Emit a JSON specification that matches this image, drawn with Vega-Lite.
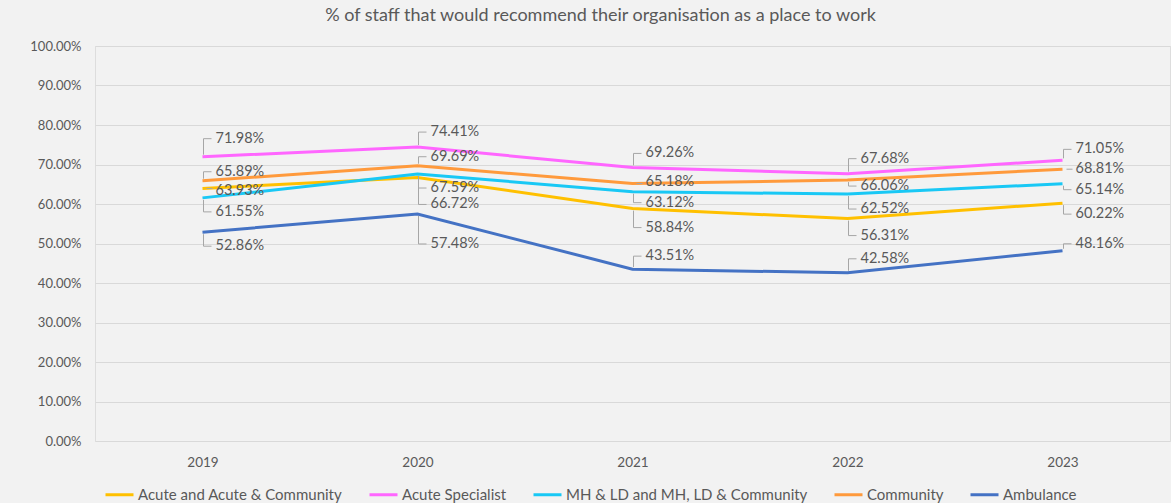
{
  "$schema": "https://vega.github.io/schema/vega-lite/v6.json",
  "width": 1075,
  "height": 395,
  "autosize": {"type": "none"},
  "padding": {"left": 95, "top": 46, "right": 1, "bottom": 62},
  "background": "#f2f2f2",
  "params": [
    {"name": "off", "value": {
      "Acute and Acute & Community": [3, 27, 19, 17, 11],
      "Acute Specialist": [-18, -15, -14, -15, -11],
      "MH & LD and MH, LD & Community": [14, 14, 11, 15, 6],
      "Community": [-9, -9, -2, 6, 0],
      "Ambulance": [14, 30, -13, -14, -7]
    }}
  ],
  "title": {
    "text": "% of staff that would recommend their organisation as a place to work",
    "font": "Lato",
    "fontSize": 18,
    "fontWeight": "normal",
    "color": "#595959",
    "anchor": "middle",
    "dx": -32,
    "offset": 15
  },
  "data": {"values": [
    {"series": "Acute and Acute & Community", "year": "2019", "value": 0.6393},
    {"series": "Acute and Acute & Community", "year": "2020", "value": 0.6672},
    {"series": "Acute and Acute & Community", "year": "2021", "value": 0.5884},
    {"series": "Acute and Acute & Community", "year": "2022", "value": 0.5631},
    {"series": "Acute and Acute & Community", "year": "2023", "value": 0.6022},
    {"series": "Acute Specialist", "year": "2019", "value": 0.7198},
    {"series": "Acute Specialist", "year": "2020", "value": 0.7441},
    {"series": "Acute Specialist", "year": "2021", "value": 0.6926},
    {"series": "Acute Specialist", "year": "2022", "value": 0.6768},
    {"series": "Acute Specialist", "year": "2023", "value": 0.7105},
    {"series": "MH & LD and MH, LD & Community", "year": "2019", "value": 0.6155},
    {"series": "MH & LD and MH, LD & Community", "year": "2020", "value": 0.6759},
    {"series": "MH & LD and MH, LD & Community", "year": "2021", "value": 0.6312},
    {"series": "MH & LD and MH, LD & Community", "year": "2022", "value": 0.6252},
    {"series": "MH & LD and MH, LD & Community", "year": "2023", "value": 0.6514},
    {"series": "Community", "year": "2019", "value": 0.6589},
    {"series": "Community", "year": "2020", "value": 0.6969},
    {"series": "Community", "year": "2021", "value": 0.6518},
    {"series": "Community", "year": "2022", "value": 0.6606},
    {"series": "Community", "year": "2023", "value": 0.6881},
    {"series": "Ambulance", "year": "2019", "value": 0.5286},
    {"series": "Ambulance", "year": "2020", "value": 0.5748},
    {"series": "Ambulance", "year": "2021", "value": 0.4351},
    {"series": "Ambulance", "year": "2022", "value": 0.4258},
    {"series": "Ambulance", "year": "2023", "value": 0.4816}
  ]},
  "encoding": {
    "x": {
      "field": "year", "type": "ordinal",
      "scale": {"type": "point", "padding": 0.5},
      "axis": {
        "title": null, "labelAngle": 0, "domain": false, "ticks": false, "grid": false,
        "labelFont": "Lato", "labelFontSize": 13.5, "labelColor": "#595959", "labelPadding": 14
      }
    },
    "y": {
      "field": "value", "type": "quantitative",
      "scale": {"domain": [0, 1], "nice": false, "zero": true},
      "axis": {
        "title": null, "format": ".2%", "values": [0, 0.1, 0.2, 0.3, 0.4, 0.5, 0.6, 0.7, 0.8, 0.9, 1.0],
        "domain": false, "ticks": false, "grid": true, "gridColor": "#d9d9d9", "gridWidth": 1,
        "labelFont": "Lato", "labelFontSize": 13, "labelColor": "#595959", "labelPadding": 14
      }
    }
  },
  "layer": [
    {
      "mark": {"type": "line", "strokeWidth": 3},
      "encoding": {
        "color": {
          "field": "series", "type": "nominal",
          "scale": {
            "domain": ["Acute and Acute & Community", "Acute Specialist", "MH & LD and MH, LD & Community", "Community", "Ambulance"],
            "range": ["#ffc000", "#ff66ff", "#19c8f5", "#ff9a3c", "#4472c4"]
          },
          "legend": {
            "title": null, "orient": "none", "direction": "horizontal",
            "legendX": 9, "legendY": 433,
            "symbolType": "stroke", "symbolSize": 784, "symbolStrokeWidth": 3,
            "labelFont": "Lato", "labelFontSize": 15, "labelColor": "#595959",
            "labelOffset": 3, "columnPadding": 20, "labelLimit": 400
          }
        },
        "order": {"field": "year"}
      }
    },
    {
      "mark": {
        "type": "point", "filled": false, "opacity": 1, "stroke": "#a6a6a6", "strokeWidth": 1, "size": 4,
        "shape": {"expr": "abs(off[datum.series][toNumber(datum.year)-2019]) < 5 ? 'M 4 0 L 10 0' : 'M 1 ' + (off[datum.series][toNumber(datum.year)-2019] > 0 ? 2 : -2) + ' L 1 ' + off[datum.series][toNumber(datum.year)-2019] + ' L 9 ' + off[datum.series][toNumber(datum.year)-2019]"}
      },
      "encoding": {}
    },
    {
      "mark": {
        "type": "text", "align": "left", "baseline": "middle", "dx": 13,
        "dy": {"expr": "off[datum.series][toNumber(datum.year)-2019]"},
        "font": "Lato", "fontSize": 14.5, "color": "#595959"
      },
      "encoding": {
        "text": {"field": "value", "type": "quantitative", "format": ".2%"}
      }
    }
  ]
}
